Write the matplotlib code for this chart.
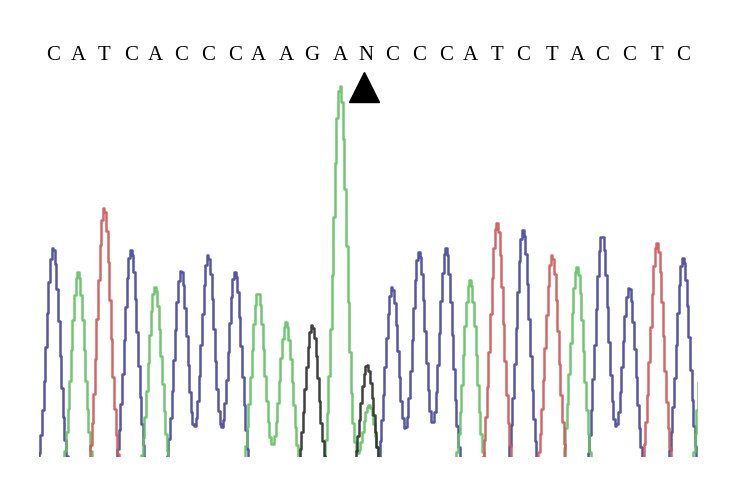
import numpy as np
import matplotlib
matplotlib.use('Agg')
import matplotlib.pyplot as plt

# base calls printed above the trace and the scan position of each call
calls = list("CATCACCCAAGANCCCATCTACCTC")
call_pos = [53, 78, 104, 131, 155, 181, 208, 235, 258, 286, 312, 340, 366,
            392, 419, 446, 470, 497, 523, 552, 577, 602, 629, 657, 683]

# peaks of each dye channel (scan position, signal height)
a_pos = [78, 155, 258, 286, 340, 369, 470, 577, 707]
a_height = [185, 170, 164, 135, 372, 52, 177, 190, 190]
c_pos = [53, 131, 181, 208, 235, 392, 419, 446, 523, 602, 629, 683]
c_height = [210, 207, 187, 202, 185, 170, 205, 209, 227, 222, 170, 199]
g_pos = [312, 367]
g_height = [132, 92]
t_pos = [104, 497, 552, 657]
t_height = [249, 234, 202, 214]

colors = {'A': '#62c062', 'C': '#43439a', 'G': '#2b2b2b', 'T': '#cc5858'}
sigma = 6.7
offset = 28
scan = np.arange(30, 714, 1.6)


def trace(pos, height):
    y = np.zeros_like(scan)
    for p, h in zip(pos, height):
        y += (h + offset) * np.exp(-(scan - p) ** 2 / (2 * sigma ** 2))
    return y - offset


fig = plt.figure(figsize=(7.53, 4.84), dpi=100)
ax = fig.add_axes([39 / 753, 27 / 484, 659 / 753, 457 / 484])

for base, pos, height in [('C', c_pos, c_height), ('A', a_pos, a_height),
                          ('T', t_pos, t_height), ('G', g_pos, g_height)]:
    ax.plot(scan, trace(pos, height), color=colors[base], lw=1.8,
            drawstyle='steps-mid', alpha=0.9)

for letter, x in zip(calls, call_pos):
    ax.text(x, 402, letter, ha='center', va='center', fontsize=15,
            family='Liberation Serif', clip_on=False)

n_idx = calls.index('N')
ax.plot(call_pos[n_idx] - 2, 370, marker='^', ms=21, color='black',
        clip_on=False)

ax.set_xlim(39, 698)
ax.set_ylim(0, 457)
ax.axis('off')

fig.savefig('out.png', dpi=100)
